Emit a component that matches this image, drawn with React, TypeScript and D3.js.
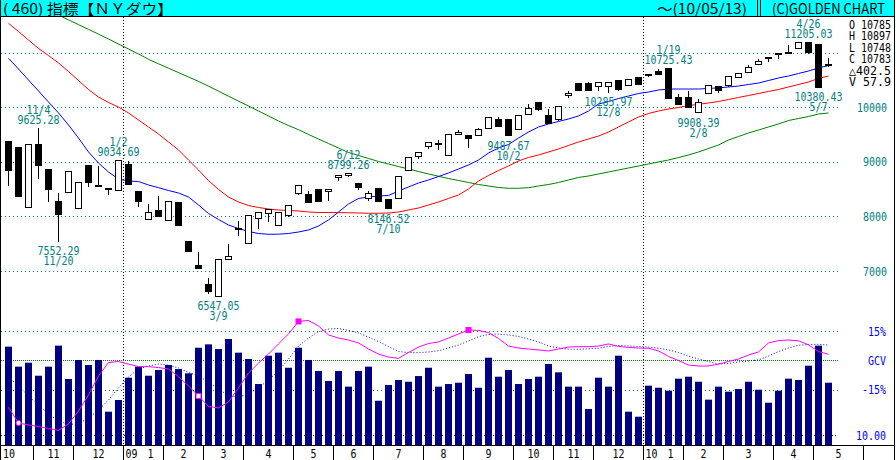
import React from "react";
import * as d3 from "d3";

const W = 896;
const H = 460;

// ---- weekly candles (Oct 13 2008 .. May 10 2010) ----
const opens = [9388,9265,8176,9320,8871,8274,8443,8149,8934,8565,
 8520,8484,8953,8474,7949,8116,7937,8271,7553,7115,
 6763,6547,7217,7776,7522,7976,8058,7842,8025,8427,
 8419,8504,8473,8721,8764,8612,8339,8529,8325,8332,
 8848,9109,9287,9338,9135,9509,9496,9497,9627,9779,
 9789,9600,9886,10092,9868,9789,10227,10437,10451,10396,
 10390,10501,10414,10547,10584,10664,10725,10197,10186,9908,
 10269,10383,10404,10553,10642,10786,10896,10974,11006,11092,
 11205,11152,10785];
const highs = [9388,9265,9325,9625,8871,8425,8829,8635,8934,8924,
 8520,9035,9015,8474,8228,8375,8281,8271,7556,7351,
 6876,7224,7487,7925,8018,8083,8131,8076,8212,8575,
 8469,8504,8500,8763,8799,8612,8472,8529,8325,8744,
 9093,9172,9370,9398,9506,9581,9496,9627,9820,9830,
 9789,9865,10063,10092,9963,10024,10291,10437,10464,10458,
 10472,10501,10520,10549,10618,10711,10725,10236,10297,10144,
 10402,10383,10566,10625,10779,10889,10927,10997,11145,11204,
 11205,11152,10897];
const lows = [8578,8379,8176,8696,8283,7552,8443,8149,8565,8565,
 8419,8484,8599,8200,7949,8001,7937,7850,7366,7063,
 6594,6547,7217,7660,7522,7790,7920,7842,8017,8410,
 8269,8277,8300,8675,8739,8497,8300,8281,8147,8332,
 8848,9071,9256,9241,9135,9509,9281,9497,9627,9665,
 9488,9600,9871,9949,9713,9772,10197,10318,10310,10317,
 10286,10308,10414,10428,10572,10610,10173,10067,10002,9908,
 10269,10282,10397,10553,10642,10786,10857,10898,11006,11092,
 10992,10380,10748];
const closes = [8852,8379,9325,8944,8497,8046,8829,8635,8630,8579,
 8516,9035,8599,8281,8078,8001,8281,7850,7366,7063,
 6627,7224,7278,7780,8018,8083,8131,8076,8212,8575,
 8269,8277,8500,8763,8799,8540,8438,8281,8147,8744,
 9093,9172,9370,9321,9506,9544,9441,9605,9820,9665,
 9488,9865,9996,9972,9713,10023,10270,10318,10310,10455,
 10472,10329,10520,10428,10618,10610,10173,10067,10012,10099,
 10402,10325,10566,10625,10742,10850,10927,10997,11019,11204,
 11009,10380,10783];

// ---- moving averages ----
const ma13 = [10898,10702,10500,10299,10097,9896,9676,9437,9181,8979,
 8814,8686,8649,8640,8576,8527,8475,8430,8356,8210,
 8054,7944,7843,7779,7724,7687,7673,7675,7687,7715,
 7752,7825,7935,8081,8228,8329,8356,8375,8384,8466,
 8540,8613,8668,8732,8796,8869,8943,9034,9163,9254,
 9318,9437,9547,9639,9694,9740,9786,9841,9932,10060,
 10106,10161,10207,10253,10280,10317,10335,10335,10335,10335,
 10345,10357,10372,10390,10418,10445,10491,10537,10574,10619,
 10665,10720,10766];
const ma26 = [11539,11389,11233,11078,10949,10812,10656,10491,10326,10189,
 10088,10005,9896,9767,9639,9511,9364,9218,9034,8851,
 8659,8494,8356,8265,8200,8164,8136,8118,8109,8100,
 8081,8072,8072,8069,8067,8063,8058,8058,8063,8081,
 8118,8155,8210,8265,8329,8393,8503,8649,8750,8842,
 8924,9016,9080,9126,9181,9236,9300,9364,9419,9474,
 9547,9639,9731,9822,9886,9932,9969,9996,10033,10055,
 10079,10106,10143,10180,10216,10253,10290,10326,10372,10418,
 10464,10528,10574];
const ma52 = [12131,12043,11955,11867,11779,11691,11603,11515,11428,11340,
 11252,11160,11068,10977,10880,10797,10717,10636,10555,10475,
 10387,10295,10203,10112,10024,9932,9841,9749,9666,9590,
 9502,9419,9337,9254,9172,9117,9062,9007,8961,8915,
 8869,8824,8778,8737,8695,8659,8622,8585,8558,8530,
 8516,8516,8527,8558,8585,8622,8668,8714,8741,8778,
 8814,8851,8888,8924,8961,8998,9034,9080,9126,9181,
 9245,9309,9401,9465,9529,9584,9639,9694,9758,9795,
 9831,9877,9896];

// ---- lower panel ----
const volumes = [90.9,72.6,76.2,64.3,72.6,91.8,61.3,78.7,74.1,78.7,
 31.4,42.1,62.5,72.6,64.3,69.5,74.1,70.4,66.5,89.9,
 93.0,88.7,97.9,85.4,79.6,56.7,82.6,85.4,71.6,89.9,
 78.7,68.6,59.5,68.6,54.3,68.6,72.6,41.4,55.8,60.4,
 58.8,64.0,71.6,54.3,56.7,57.9,65.9,53.3,80.8,63.4,
 69.5,56.7,61.3,63.4,75.0,67.4,54.3,54.3,33.9,62.5,
 54.3,82.6,31.4,26.8,55.2,53.3,50.6,61.6,63.4,58.8,
 42.4,54.3,49.7,52.2,58.8,51.5,39.6,50.6,61.6,60.4,
 73.5,91.8,57.9];
const devLine = [-24.0,-32.0,-33.0,-33.8,-34.8,-35.8,-32.5,-25.9,-17.7,-8.0,
 -1.1,-0.6,-1.9,-3.2,-3.2,-3.7,-4.4,-8.3,-13.1,-18.2,
 -23.6,-24.3,-21.3,-14.1,-6.5,-1.4,3.2,8.4,13.5,19.9,
 20.4,17.6,13.0,11.4,10.4,8.9,5.8,3.2,1.7,1.0,
 4.0,6.8,8.6,9.4,11.4,13.5,15.5,15.3,14.2,11.2,
 7.3,6.3,5.8,5.3,4.8,5.8,6.8,7.0,7.0,7.3,
 8.4,7.1,6.6,6.3,6.2,4.8,2.0,-0.1,-2.4,-2.9,
 -2.9,-1.9,-0.6,0.7,2.7,4.3,8.9,10.1,10.4,10.0,
 7.9,4.5,3.1];
const devSignal = [-8.4,-13.1,-18.2,-22.8,-27.4,-31.0,-32.8,-32.3,-29.5,-25.4,
 -20.3,-14.1,-8.5,-4.4,-2.9,-1.9,-2.4,-3.9,-6.2,-8.0,
 -11.1,-14.6,-18.2,-18.7,-17.2,-14.1,-10.0,-5.4,0.7,7.3,
 11.4,14.7,16.0,16.3,15.3,14.0,11.9,9.6,7.1,4.5,
 4.0,3.9,4.3,4.9,6.3,7.8,9.9,12.1,13.2,13.4,
 13.0,12.2,10.9,9.4,7.3,6.3,5.7,5.7,5.9,6.2,
 7.1,7.6,7.3,7.1,6.8,6.2,5.3,4.0,2.2,0.7,
 -0.6,-1.9,-1.6,-0.8,-0.3,0.2,2.2,4.5,6.3,7.7,
 8.1,8.2,7.8];
const markerIdx = [1, 19, 29, 46];
const markerKind = ["openCircle", "openSquare", "fillSquare", "fillSquare"];

// ---- ticks / labels ----
const priceTicks = [11000, 10000, 9000, 8000, 7000];
const priceTickLabels = ["", "10000", "9000", "8000", "7000"];
const oscTicks = [15, 0, -15];
const oscTickLabels = ["15%", "GCV", "-15%"];
const volTick = 10;
const volTickLabel = "10.00";
const monthStarts = [0,3,7,12,16,20,24,29,33,37,42,46,51,55,59,64,68,72,77,81,86];
const monthLabels = ["10","11","12","1","2","3","4","5","6","7","8","9","10","11","12","1","2","3","4","5"];
const yearStarts = [12, 64];
const yearLabels = ["09", "10"];

const annIdx = [3, 11, 34, 66, 80, 5, 21, 38, 50, 60, 69, 81];
const annAbove = [true, true, true, true, true, false, false, false, false, false, false, false];
const annDate = ["11/4", "1/2", "6/12", "1/19", "4/26", "11/20", "3/9", "7/10", "10/2", "12/8", "2/8", "5/7"];
const annValue = ["9625.28", "9034.69", "8799.26", "10725.43", "11205.03", "7552.29", "6547.05", "8146.52", "9487.67", "10285.97", "9908.39", "10380.43"];

const ohlcLines = ["O 10785", "H 10897", "L 10748", "C 10783", "△402.5", "V  57.9"];

const MONO = "'DejaVu Sans Mono', 'Liberation Mono', monospace";
const CJK = "'Noto Sans CJK JP', 'Noto Sans', sans-serif";
const TEAL = "#008080";

const units = (s: string) =>
  Array.from(s).reduce((a, ch) => a + (ch.charCodeAt(0) > 0x2000 ? 2 : 1), 0);

function Mono(props: { x: number; y: number; text: string; anchor?: string; fill?: string; unit?: number; size?: number }) {
  const { x, y, text, anchor = "start", fill = "#000", unit = 6, size = 12 } = props;
  const w = units(text) * unit;
  const sx = anchor === "middle" ? x - w / 2 : anchor === "end" ? x - w : x;
  return (
    <text x={sx} y={y} fontSize={size} fontFamily={MONO} fill={fill} textLength={w} lengthAdjust="spacingAndGlyphs">
      {text}
    </text>
  );
}

export default function App() {
  const x = d3.scaleLinear().domain([0, 86]).range([5, 865]);
  const cx = (i: number) => x(i) + 3.5;
  const yP = d3.scaleLinear().domain([7000, 10000]).range([271, 107.3]);
  const yO = d3.scaleLinear().domain([-15, 15]).range([389.7, 331]);
  const yV = d3.scaleLinear().domain([0, 100]).range([446, 336.7]);
  const crisp = (v: number) => Math.round(v) + 0.5;

  const priceLine = d3.line<number>().x((_, i) => cx(i)).y((d) => yP(d));
  const oscLine = d3.line<number>().x((_, i) => cx(i)).y((d) => yO(d));

  const seps = monthStarts.map((m) => x(m) - 1.5);

  return (
    <svg width={W} height={H} style={{ position: "absolute", left: 0, top: 0, background: "#fff" }}>
      <defs>
        <clipPath id="upper">
          <rect x={1} y={17} width={838} height={301} />
        </clipPath>
      </defs>
      <rect x={0} y={0} width={W} height={H} fill="#fff" />

      {/* header */}
      <rect x={0} y={0} width={894} height={16} fill="#00ffff" />
      <line x1={0} x2={894} y1={16.5} y2={16.5} stroke="#000" />
      <text x={3} y={14} fontSize={14} fontFamily={CJK} fill="#000" textLength={170} lengthAdjust="spacingAndGlyphs">
        ( 460) 指標【ＮＹダウ】
      </text>
      <text x={657} y={14} fontSize={14} fontFamily={CJK} fill="#000" textLength={90} lengthAdjust="spacingAndGlyphs">
        ～(10/05/13)
      </text>
      <line x1={757.5} x2={757.5} y1={0} y2={16} stroke="#000" />
      <line x1={760.5} x2={760.5} y1={0} y2={16} stroke="#000" />
      <text x={772} y={14} fontSize={14} fontFamily={CJK} fill="#000" textLength={113} lengthAdjust="spacingAndGlyphs">
        (C)GOLDEN CHART
      </text>

      {/* price grid */}
      {priceTicks.map((t, k) => (
        <g key={"pg" + k}>
          <line x1={1} x2={838} y1={crisp(yP(t))} y2={crisp(yP(t))} stroke={TEAL} strokeDasharray="1,3" />
          {priceTickLabels[k] && <Mono x={887} y={yP(t) + 4.5} text={priceTickLabels[k]} anchor="end" fill={TEAL} />}
        </g>
      ))}

      {/* oscillator grid */}
      {oscTicks.map((t, k) => (
        <g key={"og" + k}>
          <line x1={1} x2={838} y1={crisp(yO(t))} y2={crisp(yO(t))} stroke="#008000" strokeDasharray={t === 0 ? "1,1" : "1,3"} />
          <Mono x={886} y={yO(t) + 4.5} text={oscTickLabels[k]} anchor="end" fill="#0000ff" />
        </g>
      ))}
      <line x1={1} x2={838} y1={crisp(yV(volTick))} y2={crisp(yV(volTick))} stroke="#000" strokeDasharray="1,2" />
      <Mono x={886} y={yV(volTick) + 4.5} text={volTickLabel} anchor="end" fill="#0000ff" />

      {/* year dividers */}
      {yearStarts.map((ys, k) => (
        <line key={"yd" + k} x1={x(ys) - 1.5} x2={x(ys) - 1.5} y1={17} y2={446} stroke="#000" strokeDasharray="1,2" />
      ))}

      {/* volume bars */}
      {volumes.map((v, i) => (
        <rect key={"v" + i} x={x(i)} y={yV(v)} width={7} height={446 - yV(v)} fill="#000080" />
      ))}

      {/* oscillator lines */}
      <path d={oscLine(devSignal) || ""} fill="none" stroke="#0000ff" strokeDasharray="1,2" />
      <path d={oscLine(devLine) || ""} fill="none" stroke="#ff00ff" />
      {markerIdx.map((mi, k) => {
        const px = cx(mi);
        const py = yO(devLine[mi]);
        const kind = markerKind[k];
        if (kind === "openCircle")
          return <circle key={"mk" + k} cx={px} cy={py} r={2.5} fill="#fff" stroke="#ff00ff" />;
        if (kind === "openSquare")
          return <rect key={"mk" + k} x={px - 2.5} y={py - 2.5} width={5} height={5} fill="#fff" stroke="#ff00ff" />;
        return <rect key={"mk" + k} x={px - 3} y={py - 3} width={6} height={6} fill="#ff00ff" />;
      })}

      {/* moving averages */}
      <g clipPath="url(#upper)">
        <path d={priceLine(ma52) || ""} fill="none" stroke="#008000" />
        <path d={priceLine(ma26) || ""} fill="none" stroke="#ff0000" />
        <path d={priceLine(ma13) || ""} fill="none" stroke="#0000ff" />
      </g>

      {/* candles */}
      {closes.map((c, i) => {
        const o = opens[i];
        const top = Math.round(yP(Math.max(o, c)));
        const bot = Math.round(yP(Math.min(o, c)));
        const hgt = Math.max(1, bot - top);
        const up = c >= o;
        const wx = Math.floor(cx(i)) + 0.5;
        return (
          <g key={"c" + i}>
            <line x1={wx} x2={wx} y1={Math.round(yP(highs[i]))} y2={Math.round(yP(lows[i])) + 1} stroke="#000" />
            <rect x={x(i) + 0.5} y={top + 0.5} width={6} height={hgt} fill={up ? "#fff" : "#000"} stroke="#000" />
          </g>
        );
      })}

      {/* annotations */}
      {annIdx.map((ai, k) => {
        const px = cx(ai);
        if (annAbove[k]) {
          const c2 = yP(highs[ai]) - 8;
          return (
            <g key={"an" + k}>
              <Mono x={px} y={c2 - 10 + 4.5} text={annDate[k]} anchor="middle" fill={TEAL} />
              <Mono x={px} y={c2 + 4.5} text={annValue[k]} anchor="middle" fill={TEAL} />
            </g>
          );
        }
        const c1 = yP(lows[ai]) + 10;
        return (
          <g key={"an" + k}>
            <Mono x={px} y={c1 + 4.5} text={annValue[k]} anchor="middle" fill={TEAL} />
            <Mono x={px} y={c1 + 10 + 4.5} text={annDate[k]} anchor="middle" fill={TEAL} />
          </g>
        );
      })}

      {/* OHLC box */}
      {ohlcLines.map((s, k) => (
        <Mono key={"ohlc" + k} x={849} y={24 + k * 11.5 + 4.5} text={s} fill="#000" />
      ))}

      {/* bottom axis */}
      <line x1={0} x2={894} y1={445.5} y2={445.5} stroke="#000" />
      {seps.slice(1).map((s, k) => (
        <line key={"sep" + k} x1={s} x2={s} y1={446} y2={460} stroke="#000" />
      ))}
      {monthLabels.map((lab, k) => {
        const isYear = yearStarts.indexOf(monthStarts[k]) >= 0;
        if (k === 0) return <Mono key={"ml" + k} x={3} y={458} text={lab} />;
        const mid = (seps[k] + seps[k + 1]) / 2 + (isYear ? 7 : 0);
        return <Mono key={"ml" + k} x={mid} y={458} text={lab} anchor="middle" />;
      })}
      {yearStarts.map((ys, k) => (
        <Mono key={"yl" + k} x={x(ys) + 0.5} y={458} text={yearLabels[k]} />
      ))}

      {/* frame */}
      <line x1={0.5} x2={0.5} y1={0} y2={460} stroke="#000" />
      <line x1={894.5} x2={894.5} y1={0} y2={460} stroke="#000" />
    </svg>
  );
}
